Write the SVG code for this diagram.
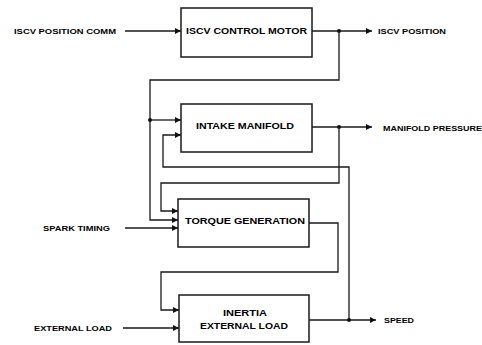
<svg xmlns="http://www.w3.org/2000/svg" width="482" height="345" viewBox="0 0 482 345">
<style>
.box{fill:#fff;stroke:#1a1a1a;stroke-width:1.5}
.ln{fill:none;stroke:#1a1a1a;stroke-width:1.3}
.t{font-family:"Liberation Sans",Arial,sans-serif;font-weight:bold;fill:#000}
.bt{font-size:9px}
.lt{font-size:8px}
</style>
<defs>
<marker id="ah" viewBox="0 0 10 10" refX="10" refY="5" markerWidth="6" markerHeight="6" orient="auto" markerUnits="userSpaceOnUse">
<path d="M0,0 L10,5 L0,10 z" fill="#111"/>
</marker>
</defs>
<rect width="482" height="345" fill="#fff"/>
<g id="connectors">
<path class="ln" d="M125,31 H181" marker-end="url(#ah)"/>
<path class="ln" d="M125,228 H178" marker-end="url(#ah)"/>
<path class="ln" d="M123,328 H179" marker-end="url(#ah)"/>
<path class="ln" d="M312,31 H372" marker-end="url(#ah)"/>
<circle cx="339" cy="31" r="2" fill="#111"/>
<path class="ln" d="M339,31 V80 H150 V220 H178" marker-end="url(#ah)"/>
<path class="ln" d="M150,120 H181" marker-end="url(#ah)"/>
<circle cx="150" cy="120" r="2" fill="#111"/>
<path class="ln" d="M312,127 H372" marker-end="url(#ah)"/>
<circle cx="339" cy="127" r="2" fill="#111"/>
<path class="ln" d="M339,127 V183 H161 V211 H178" marker-end="url(#ah)"/>
<path class="ln" d="M349,320 V167 H163 V135 H181" marker-end="url(#ah)"/>
<path class="ln" d="M309,223 H338 V272 H161 V310 H179" marker-end="url(#ah)"/>
<path class="ln" d="M309,320 H376" marker-end="url(#ah)"/>
<circle cx="349" cy="320" r="2" fill="#111"/>
</g>
<g id="iscv">
<rect class="box" x="181" y="8" width="131" height="49"/>
<text class="t bt" x="186" y="34" textLength="121" lengthAdjust="spacingAndGlyphs">ISCV CONTROL MOTOR</text>
</g>
<g id="intake">
<rect class="box" x="181" y="104" width="131" height="48"/>
<text class="t bt" x="196" y="129" textLength="98" lengthAdjust="spacingAndGlyphs">INTAKE MANIFOLD</text>
</g>
<g id="torque">
<rect class="box" x="178" y="199" width="131" height="48"/>
<text class="t bt" x="185" y="224" textLength="120" lengthAdjust="spacingAndGlyphs">TORQUE GENERATION</text>
</g>
<g id="inertia">
<rect class="box" x="179" y="295" width="130" height="47"/>
<text class="t bt" x="223" y="316" textLength="44" lengthAdjust="spacingAndGlyphs">INERTIA</text>
<text class="t bt" x="200" y="329" textLength="88" lengthAdjust="spacingAndGlyphs">EXTERNAL LOAD</text>
</g>
<g id="labels">
<text class="t lt" x="14" y="34" textLength="102" lengthAdjust="spacingAndGlyphs">ISCV POSITION COMM</text>
<text class="t lt" x="378" y="34" textLength="68" lengthAdjust="spacingAndGlyphs">ISCV POSITION</text>
<text class="t lt" x="383" y="131" textLength="99" lengthAdjust="spacingAndGlyphs">MANIFOLD PRESSURE</text>
<text class="t lt" x="43" y="231" textLength="67" lengthAdjust="spacingAndGlyphs">SPARK TIMING</text>
<text class="t lt" x="34" y="331" textLength="78" lengthAdjust="spacingAndGlyphs">EXTERNAL LOAD</text>
<text class="t lt" x="384" y="323" textLength="30" lengthAdjust="spacingAndGlyphs">SPEED</text>
</g>
</svg>
